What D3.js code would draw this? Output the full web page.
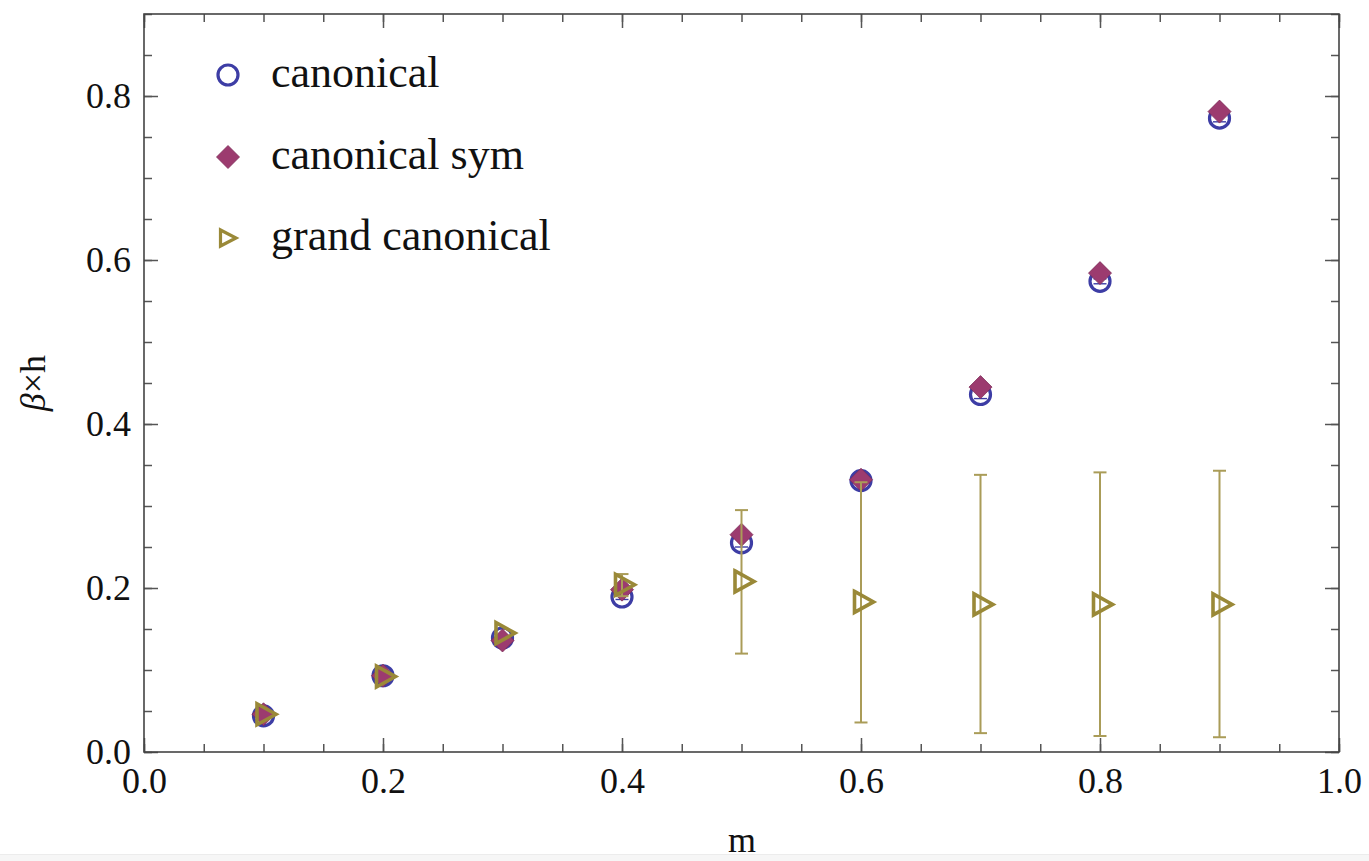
<!DOCTYPE html>
<html>
<head>
<meta charset="utf-8">
<script src="https://d3js.org/d3.v7.min.js"></script>
<style>
  body { margin: 0; background: #fff; }
  text { font-family: "Liberation Serif", "Times New Roman", serif; fill: #111; }
</style>
</head>
<body>
<svg id="chart" width="1369" height="861"></svg>
<script>
// values
var mValues   = [0.1, 0.2, 0.3, 0.4, 0.5, 0.6, 0.7, 0.8, 0.9];
var canonical = [0.044, 0.093, 0.139, 0.189, 0.255, 0.331, 0.436, 0.574, 0.773];
var canonErr  = [0.001, 0.001, 0.002, 0.003, 0.005, 0.002, 0.005, 0.003, 0.0045];
var canonSym  = [0.046, 0.093, 0.136, 0.198, 0.265, 0.332, 0.445, 0.584, 0.781];
var grand     = [0.046, 0.092, 0.145, 0.204, 0.208, 0.183, 0.180, 0.180, 0.180];
var grandLow  = [0.046, 0.092, 0.145, 0.190, 0.120, 0.036, 0.023, 0.0195, 0.018];
var grandHigh = [0.046, 0.092, 0.145, 0.217, 0.295, 0.329, 0.338, 0.341, 0.343];
var xTicks = [0, 0.2, 0.4, 0.6, 0.8, 1.0];
var yTicks = [0, 0.2, 0.4, 0.6, 0.8];
var legendNames = ["canonical", "canonical sym", "grand canonical"];

var blue = "#3d3da5", plum = "#9c3b6f", olive = "#9a8938", oliveBar = "#aa9c58";

var svg = d3.select("#chart");
var x = d3.scaleLinear().domain([0, 1]).range([144, 1339]);
var y = d3.scaleLinear().domain([0, 0.9]).range([752, 14]);

var minorX = d3.range(0, 1.0001, 0.05), minorY = d3.range(0, 0.9001, 0.05);
var fmt = d3.format(".1f");

function styleAxis(g) {
  g.select(".domain").remove();
  g.selectAll(".tick line").attr("stroke", "#555").attr("stroke-width", 1.5);
  g.selectAll("text").style("font-size", "36px").attr("fill", "#111");
}

// minor ticks (all four sides, inward)
svg.append("g").attr("transform", "translate(0,752)")
  .call(d3.axisBottom(x).tickValues(minorX).tickSize(-8).tickFormat("")).call(styleAxis);
svg.append("g").attr("transform", "translate(0,14)")
  .call(d3.axisTop(x).tickValues(minorX).tickSize(-8).tickFormat("")).call(styleAxis);
svg.append("g").attr("transform", "translate(144,0)")
  .call(d3.axisLeft(y).tickValues(minorY).tickSize(-8).tickFormat("")).call(styleAxis);
svg.append("g").attr("transform", "translate(1339,0)")
  .call(d3.axisRight(y).tickValues(minorY).tickSize(-8).tickFormat("")).call(styleAxis);

// major ticks with labels
svg.append("g").attr("transform", "translate(0,752)")
  .call(d3.axisBottom(x).tickValues(xTicks).tickSize(-14).tickPadding(15).tickFormat(fmt)).call(styleAxis);
svg.append("g").attr("transform", "translate(0,14)")
  .call(d3.axisTop(x).tickValues(xTicks).tickSize(-14).tickFormat("")).call(styleAxis);
svg.append("g").attr("transform", "translate(144,0)")
  .call(d3.axisLeft(y).tickValues(yTicks).tickSize(-14).tickPadding(13).tickFormat(fmt)).call(styleAxis);
svg.append("g").attr("transform", "translate(1339,0)")
  .call(d3.axisRight(y).tickValues(yTicks).tickSize(-14).tickFormat("")).call(styleAxis);

// frame
svg.append("rect")
  .attr("x", x(0)).attr("y", y(0.9))
  .attr("width", x(1) - x(0)).attr("height", y(0) - y(0.9))
  .attr("fill", "none").attr("stroke", "#444").attr("stroke-width", 1.6);

// axis labels
var yl = svg.append("text")
  .attr("transform", "translate(45," + (y(0.45)) + ") rotate(-90)")
  .attr("text-anchor", "middle").style("font-size", "36px");
yl.append("tspan").style("font-style", "italic").text("β");
yl.append("tspan").text("×h");

// light strip at the bottom edge of the picture
svg.append("rect").attr("x", 0).attr("y", 854).attr("width", 1369).attr("height", 7)
  .attr("fill", "#f6f6f6");
svg.append("line").attr("x1", 0).attr("x2", 1369).attr("y1", 854.5).attr("y2", 854.5)
  .attr("stroke", "#ececec");

svg.append("text").attr("x", 742).attr("y", 852)
  .attr("text-anchor", "middle").style("font-size", "36px").text("m");

// canonical: open circles
var pts = mValues.map(function(m, i) { return i; });
var cap = 6.5;
svg.append("g").selectAll("circle").data(pts).enter().append("circle")
  .attr("cx", function(i) { return x(mValues[i]); })
  .attr("cy", function(i) { return y(canonical[i]); })
  .attr("r", 10).attr("fill", "none").attr("stroke", blue).attr("stroke-width", 3.2);

var ce = svg.append("g").attr("stroke", blue).attr("stroke-width", 1.4);
pts.forEach(function(i) {
  var cx = x(mValues[i]);
  [canonical[i] - canonErr[i], canonical[i] + canonErr[i]].forEach(function(v) {
    ce.append("line").attr("x1", cx - cap).attr("x2", cx + cap)
      .attr("y1", y(v)).attr("y2", y(v));
  });
});

// canonical sym: filled diamonds
var diamond = "M0,-11.5L11.5,0L0,11.5L-11.5,0Z";
svg.append("g").selectAll("path").data(pts).enter().append("path")
  .attr("d", diamond)
  .attr("transform", function(i) { return "translate(" + x(mValues[i]) + "," + y(canonSym[i]) + ")"; })
  .attr("fill", plum).attr("stroke", "#7d2c58").attr("stroke-width", 0.8);

// grand canonical: error bars then open triangles
var eb = svg.append("g").attr("stroke", oliveBar).attr("stroke-width", 2);
pts.forEach(function(i) {
  if (grandHigh[i] - grandLow[i] < 0.001) return;
  var cx = x(mValues[i]);
  eb.append("line").attr("x1", cx).attr("x2", cx)
    .attr("y1", y(grandLow[i])).attr("y2", y(grandHigh[i]));
  [grandLow[i], grandHigh[i]].forEach(function(v) {
    eb.append("line").attr("x1", cx - cap).attr("x2", cx + cap)
      .attr("y1", y(v)).attr("y2", y(v));
  });
});

var tri = "M-6.5,-10.5L12.5,0L-6.5,10.5Z";
svg.append("g").selectAll("path").data(pts).enter().append("path")
  .attr("d", tri)
  .attr("transform", function(i) { return "translate(" + x(mValues[i]) + "," + y(grand[i]) + ")"; })
  .attr("fill", "none").attr("stroke", olive).attr("stroke-width", 3.6)
  .attr("stroke-linejoin", "miter");

// legend
var leg = svg.append("g");
var rowY = [75, 157, 238];
leg.append("circle").attr("cx", 228).attr("cy", rowY[0]).attr("r", 10)
  .attr("fill", "none").attr("stroke", blue).attr("stroke-width", 3.2);
leg.append("path").attr("d", diamond).attr("transform", "translate(228," + rowY[1] + ")")
  .attr("fill", plum).attr("stroke", "#7d2c58").attr("stroke-width", 0.8);
leg.append("path").attr("d", "M-5.5,-8L10,0L-5.5,8Z").attr("transform", "translate(226," + rowY[2] + ")")
  .attr("fill", "none").attr("stroke", olive).attr("stroke-width", 3.2);
legendNames.forEach(function(name, k) {
  leg.append("text").attr("x", 271).attr("y", rowY[k] + 12)
    .style("font-size", "44px").text(name);
});
</script>
</body>
</html>
